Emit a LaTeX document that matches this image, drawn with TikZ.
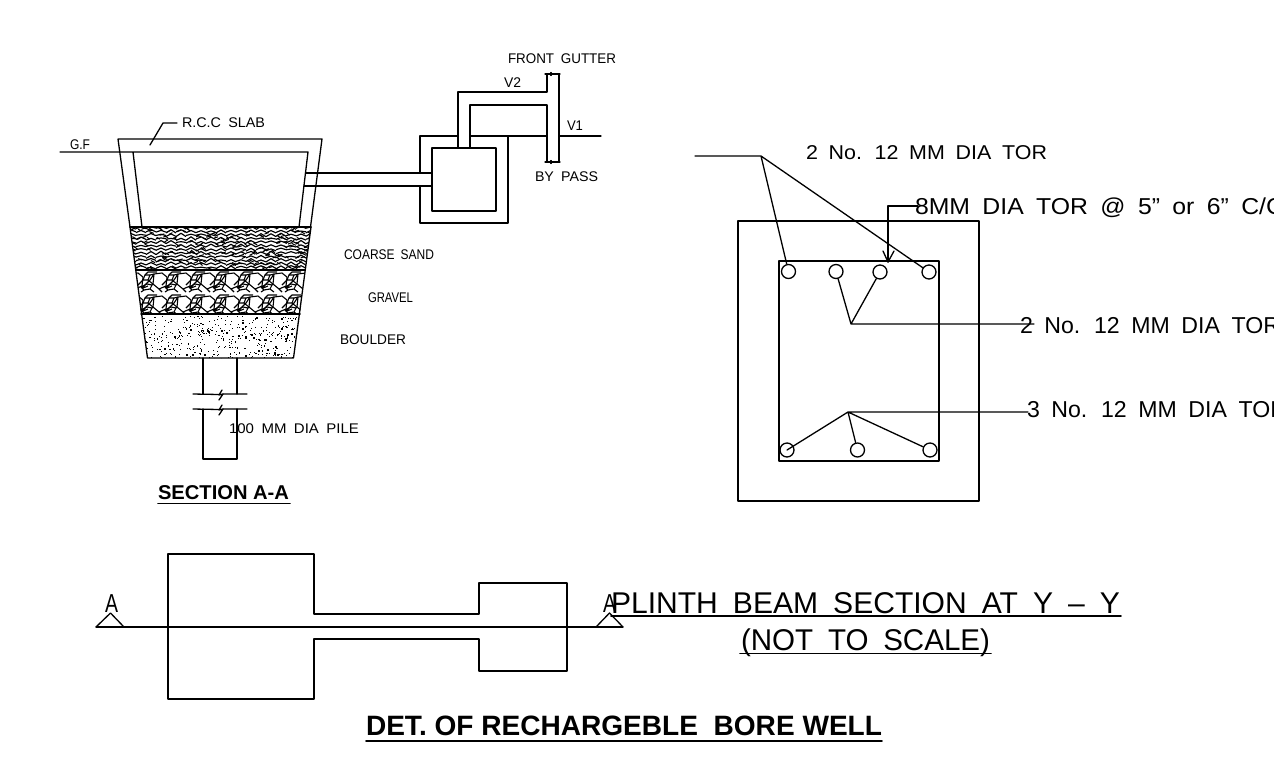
\documentclass[tikz,border=0pt]{standalone}
\usepackage{fontspec}
\setmainfont{Liberation Sans}
\newfontfamily\cadfont[WordSpace=1.8]{Liberation Sans}
\usetikzlibrary{arrows.meta}
\newcommand{\cadt}[6]{\node[lbl] (#1) at (#2,#3) {\resizebox{#4pt}{\height}{\cadfont\fontsize{#5}{#5}\selectfont #6}};}
\newcommand{\cadb}[6]{\node[lbl] (#1) at (#2,#3) {\resizebox{#4pt}{\height}{\bfseries\fontsize{#5}{#5}\selectfont #6}};}
\newcommand{\pilebreak}[1]{%
  \draw[ln] (193,#1)--(219,#1+.5) (223,#1)--(247,#1);
  \draw[ln] (222,#1-4)--(219,#1+1)--(223,#1)--(219,#1+6);}
\newcommand{\gravelrow}[1]{%
 \foreach \gx in {120,144,...,312}{
  \begin{scope}[shift={(\gx,#1)}]
   \draw[hatch] (10,2)--(18,1)--(23,5)--(22,14)--(15,17)--(9,12)--cycle;
   \draw[hatch] (1,3)--(6,3)--(4,8)--(-1,8)--cycle;
   \draw[hatch] (-3,15)--(3,12)--(8,13)--(6,17)--(0,18)--cycle;
   \draw[hatch] (-2,16)--(6,8)--(10,2) (-1,8)--(-6,13) (1,3)--(4,0)--(13,0) (6,3)--(10,2) (4,8)--(9,12) (8,13)--(9,12) (15,17)--(18,20) (6,17)--(10,20) (0,18)--(-3,20) (-3,15)--(-1,14) (-1,16)--(4,14);
  \end{scope}}}
\tikzset{
 ln/.style={line width=1.3pt,line cap=round,line join=round,black},
 hatch/.style={line width=1.1pt,line join=round,black},
 lbl/.style={anchor=base west,inner sep=0pt,outer sep=0pt,text=black},
 bar/.style={circle,draw=black,line width=1.3pt,fill=none,minimum size=14pt,inner sep=0pt},
 pt/.style={inner sep=0pt,outer sep=0pt,minimum size=0pt}
}
\begin{document}
\begin{tikzpicture}[x=1pt,y=-1pt]
\useasboundingbox (0,0) rectangle (1274,764);
\fill[white] (0,0) rectangle (1274,764);
\clip (0,0) rectangle (1274,764);
% --- section A-A tank
\draw[ln] (118,139)--(322,139)--(310.5,227) (118,139)--(130,227);
\draw[ln] (60,152)--(308,152)--(299,227) (133,152)--(142,227);
\draw[ln] (150,145)--(163,123)--(177,123);
% coarse sand
\begin{scope}
 \clip (130,227)--(311,227)--(305,270)--(136,270)--cycle;
 \pgfmathsetseed{11}
 \foreach \ry in {228,231.6,...,270}{
  \foreach \rx in {126,136,...,316}{
   \pgfmathsetmacro{\ja}{1.6*rnd}
   \pgfmathsetmacro{\jb}{1.6*rnd}
   \draw[line width=1.15pt,black] (\rx,\ry+\ja)--(\rx+5,\ry-2+\jb)--(\rx+10,\ry+\ja);
  }
 }
 \foreach \i in {1,...,240}{
  \pgfmathsetmacro{\px}{128+185*rnd}
  \pgfmathsetmacro{\py}{226+45*rnd}
  \pgfmathsetmacro{\ang}{(rnd>0.5?25:-25)+10*rnd}
  \draw[line width=1pt,black] (\px,\py)--++({\ang}:{3+2*rnd});
 }
\end{scope}
% gravel
\begin{scope}
 \clip (136,270)--(305,270)--(300,314)--(141,314)--cycle;
 \gravelrow{272}
 \gravelrow{295}
\end{scope}
% boulder
\begin{scope}
 \clip (141,314)--(300,314)--(294,358)--(147,358)--cycle;
 \pgfmathsetseed{5}
 \foreach \i in {1,...,430}{
  \pgfmathsetmacro{\px}{141+159*rnd}
  \pgfmathsetmacro{\py}{315+43*rnd}
  \pgfmathsetmacro{\sz}{0.6+1.6*rnd*rnd}
  \fill[black] (\px,\py) rectangle ++(\sz,\sz);
 }
\end{scope}
\draw[ln,line width=1.5pt] (130,227)--(311,227) (136,270)--(305,270) (141,314)--(300,314);
\draw[ln] (130,227)--(147.5,358)--(293.5,358)--(311,227);
% pile
\draw[ln] (203,358)--(203,394) (237,358)--(237,394) (203,409)--(203,459)--(237,459)--(237,409);
\pilebreak{394}
\pilebreak{409}
% pipe and chamber
\draw[ln] (305.5,173)--(432,173) (304,186)--(432,186);
\draw[ln] (420,173)--(420,136)--(458,136) (470,136)--(547,136) (420,186)--(420,223)--(508,223)--(508,136);
\draw[ln] (432,148) rectangle (496,211);
\draw[ln] (458,148)--(458,92)--(547,92)--(547,74) (470,148)--(470,105)--(547,105)--(547,162);
\draw[ln] (559,74)--(559,162) (545,74)--(560,74) (545,162)--(560,162) (551,72.5)--(551,75.5) (551,160.5)--(551,163.5);
\draw[ln] (559,136)--(601,136);
% labels left
\cadt{tgf}{70}{149}{20}{14}{G.F}
\cadt{trcc}{182}{127}{83}{14}{R.C.C SLAB}
\cadt{tfg}{508}{63}{108}{14}{FRONT GUTTER}
\cadt{tv2}{504}{87}{17}{14}{V2}
\cadt{tv1}{567}{130}{16}{14}{V1}
\cadt{tbp}{535}{181}{63}{14}{BY PASS}
\cadt{tcs}{344}{259}{90}{14}{COARSE SAND}
\cadt{tgr}{368}{302}{45}{14}{GRAVEL}
\cadt{tbo}{340}{344}{66}{14}{BOULDER}
\cadt{tpi}{229}{433}{130}{14}{100 MM DIA PILE}
\cadb{tsec}{158}{499}{131}{20}{SECTION A-A}
\draw[ln,line width=1.8pt] (158,503.5)--(290,503.5);
% beam section
\draw[ln] (738,221) rectangle (979,501);
\draw[ln] (779,261) rectangle (939,461);
\node[bar] (c1) at (788.5,271.5) {};
\node[bar] (c2) at (836,271.5) {};
\node[bar] (c3) at (880,272) {};
\node[bar] (c4) at (929,272) {};
\node[bar] (c5) at (787,450) {};
\node[bar] (c6) at (857.5,450) {};
\node[bar] (c7) at (930,450) {};
\coordinate (lead0) at (695,156);
\coordinate (lead1) at (761,156);
\coordinate (ap2) at (851,324);
\coordinate (ap3) at (848,412);
\coordinate (e2) at (1034,324);
\coordinate (e3) at (1028,412);
\coordinate (s8a) at (918,206);
\coordinate (s8b) at (888,206);
\coordinate (s8c) at (888,262);
\draw[ln] (lead0)--(lead1)--(c1) (lead1)--(c4);
\draw[ln] (c2)--(ap2)--(c3) (ap2)--(e2);
\draw[ln] (c5.center)--(ap3)--(c6) (ap3)--(c7) (ap3)--(e3);
\draw[ln] (s8a)--(s8b)--(s8c);
\draw[ln] (883,251)--(s8c)--(894,251);
\cadt{tt1}{806}{159}{241}{20}{2 No. 12 MM DIA TOR}
\cadt{tt2}{915}{214}{369}{23}{8MM DIA TOR @ 5” or 6” C/C}
\cadt{tt3}{1020}{333}{260}{23}{2 No. 12 MM DIA TOR}
\cadt{tt4}{1027}{417}{260}{23}{3 No. 12 MM DIA TOR}
% plan
\draw[ln] (168,627)--(168,554)--(314,554)--(314,614)--(479,614)--(479,583)--(567,583)--(567,671)--(479,671)--(479,639)--(314,639)--(314,699)--(168,699)--cycle;
\coordinate (al) at (96,627);
\coordinate (ar) at (623,627);
\draw[ln] (al)--(ar);
\draw[ln] (al)--(110.5,613)--(124,627);
\draw[ln] (596,627)--(609.5,613)--(ar);
\cadt{ta1}{105}{612}{13}{26}{A}
\cadt{ta2}{603}{612}{13}{26}{A}
\cadt{tp}{611}{613}{509}{30}{PLINTH BEAM SECTION AT Y – Y}
\draw[ln,line width=1.6pt] (611,616)--(1121,616);
\cadt{tn}{741}{650}{249}{30}{(NOT TO SCALE)}
\draw[ln,line width=1.6pt] (740,653.5)--(991,653.5);
\cadb{ttl}{366}{735}{516}{28}{DET. OF RECHARGEBLE\ \ BORE WELL}
\draw[ln,line width=1.8pt] (366,741)--(882,741);
\end{tikzpicture}
\end{document}
